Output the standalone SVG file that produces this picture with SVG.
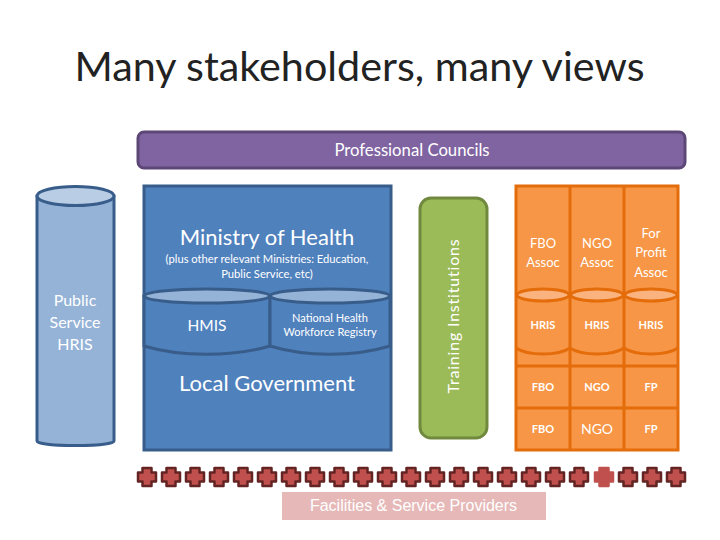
<svg xmlns="http://www.w3.org/2000/svg" xmlns:xlink="http://www.w3.org/1999/xlink" width="720" height="540" viewBox="0 0 720 540">
<style>
text{font-family:Lato,"Open Sans","Liberation Sans",sans-serif;fill:#fff;text-anchor:middle}
.blue{fill:#4f81bd;stroke:#385d8a;stroke-width:3}
.or{fill:#f79646;stroke:#e46c0a;stroke-width:3}
.top{fill:#95b3d7;stroke:#385d8a;stroke-width:3}
.ortop{fill:#fab27e;stroke:#e46c0a;stroke-width:3}
.c{fill:#c0504d;stroke:#632423;stroke-width:2.500;stroke-linejoin:round}
</style>
<defs>
<path id="cross" d="M-4.500-9H4.500V-4.500H9V4.500H4.500V9H-4.500V4.500H-9V-4.500H-4.500Z"/>
</defs>
<rect width="720" height="540" fill="#fff"/>
<text id="title" x="359.500" y="81" font-size="41.300" style="fill:#222">Many stakeholders, many views</text>
<g id="professional-councils">
<rect x="138" y="132" width="547" height="36" rx="6" fill="#8064a2" stroke="#5c4776" stroke-width="3"/>
<text x="412" y="156" font-size="16.700">Professional Councils</text>
</g>
<g id="public-service-hris">
<path d="M37 196V441C37 447 114 447 114 441V196Z" fill="#95b3d7" stroke="#385d8a" stroke-width="3"/>
<ellipse cx="75.500" cy="196" rx="38.500" ry="9.500" fill="#b9cde5" stroke="#385d8a" stroke-width="3"/>
<text x="75" y="306" font-size="16">Public</text>
<text x="75" y="328" font-size="16">Service</text>
<text x="75" y="350" font-size="16">HRIS</text>
</g>
<g id="ministry-of-health">
<rect class="blue" x="144" y="186" width="247" height="264"/>
<text x="267" y="245" font-size="22">Ministry of Health</text>
<text x="267" y="263" font-size="11.200">(plus other relevant Ministries: Education,</text>
<text x="267" y="278" font-size="11.200">Public Service, etc)</text>
<text id="local-government" x="267" y="391" font-size="22">Local Government</text>
</g>
<g id="hmis">
<path class="blue" d="M144 296V346C180 357 233 357 270 346V296Z"/>
<ellipse class="top" cx="207" cy="296" rx="63" ry="7"/>
<text x="207" y="331" font-size="15.500">HMIS</text>
</g>
<g id="national-health-workforce-registry">
<path class="blue" d="M270 296V346C306 357 354 357 390 346V296Z"/>
<ellipse class="top" cx="330" cy="296" rx="60" ry="7"/>
<text x="330" y="322" font-size="11">National Health</text>
<text x="330" y="336" font-size="11">Workforce Registry</text>
</g>
<g id="training-institutions">
<rect x="420" y="198" width="67" height="240" rx="11" fill="#9bbb59" stroke="#71893f" stroke-width="3"/>
<text transform="translate(459 316) rotate(-90)" font-size="16" letter-spacing="0.800">Training Institutions</text>
</g>
<g id="associations">
<rect class="or" x="516" y="186" width="162" height="264"/>
<path d="M570 186V450M624 186V450M516 366H678M516 408H678" fill="none" stroke="#e46c0a" stroke-width="3"/>
<path d="M516 348C528 356 558 356 570 348M570 348C582 356 612 356 624 348M624 348C636 356 666 356 678 348" fill="none" stroke="#e46c0a" stroke-width="3"/>
<ellipse class="ortop" cx="543" cy="295" rx="26" ry="6"/>
<ellipse class="ortop" cx="597" cy="295" rx="26" ry="6"/>
<ellipse class="ortop" cx="651" cy="295" rx="26" ry="6"/>
<text x="543" y="248" font-size="13">FBO</text>
<text x="543" y="267" font-size="13">Assoc</text>
<text x="597" y="248" font-size="13">NGO</text>
<text x="597" y="267" font-size="13">Assoc</text>
<text x="651" y="238" font-size="13">For</text>
<text x="651" y="257" font-size="13">Profit</text>
<text x="651" y="277" font-size="13">Assoc</text>
<g font-size="11" font-weight="700">
<text x="543" y="329">HRIS</text><text x="597" y="329">HRIS</text><text x="651" y="329">HRIS</text>
<text x="543" y="391">FBO</text><text x="597" y="391">NGO</text><text x="651" y="391">FP</text>
<text x="543" y="433">FBO</text><text x="651" y="433">FP</text>
</g>
<text x="597" y="434" font-size="14">NGO</text>
</g>
<g id="facility-crosses">
<use class="c" href="#cross" x="147" y="477"/><use class="c" href="#cross" x="171" y="477"/><use class="c" href="#cross" x="195" y="477"/><use class="c" href="#cross" x="219" y="477"/><use class="c" href="#cross" x="243" y="477"/><use class="c" href="#cross" x="267" y="477"/><use class="c" href="#cross" x="291" y="477"/><use class="c" href="#cross" x="315" y="477"/><use class="c" href="#cross" x="339" y="477"/><use class="c" href="#cross" x="363" y="477"/><use class="c" href="#cross" x="387" y="477"/><use class="c" href="#cross" x="411" y="477"/><use class="c" href="#cross" x="435" y="477"/><use class="c" href="#cross" x="459" y="477"/><use class="c" href="#cross" x="483" y="477"/><use class="c" href="#cross" x="507" y="477"/><use class="c" href="#cross" x="531" y="477"/><use class="c" href="#cross" x="555" y="477"/><use class="c" href="#cross" x="579" y="477"/><use class="c" href="#cross" x="604" y="477" style="stroke:#c0504d"/><use class="c" href="#cross" x="628" y="477"/><use class="c" href="#cross" x="652" y="477"/><use class="c" href="#cross" x="676" y="477"/>
</g>
<g id="facilities-service-providers">
<rect x="282" y="492" width="264" height="28" fill="#e6b9b8"/>
<text x="413.500" y="511" font-size="16" style="font-family:'Liberation Sans',Arial,sans-serif">Facilities &amp; Service Providers</text>
</g>
</svg>
